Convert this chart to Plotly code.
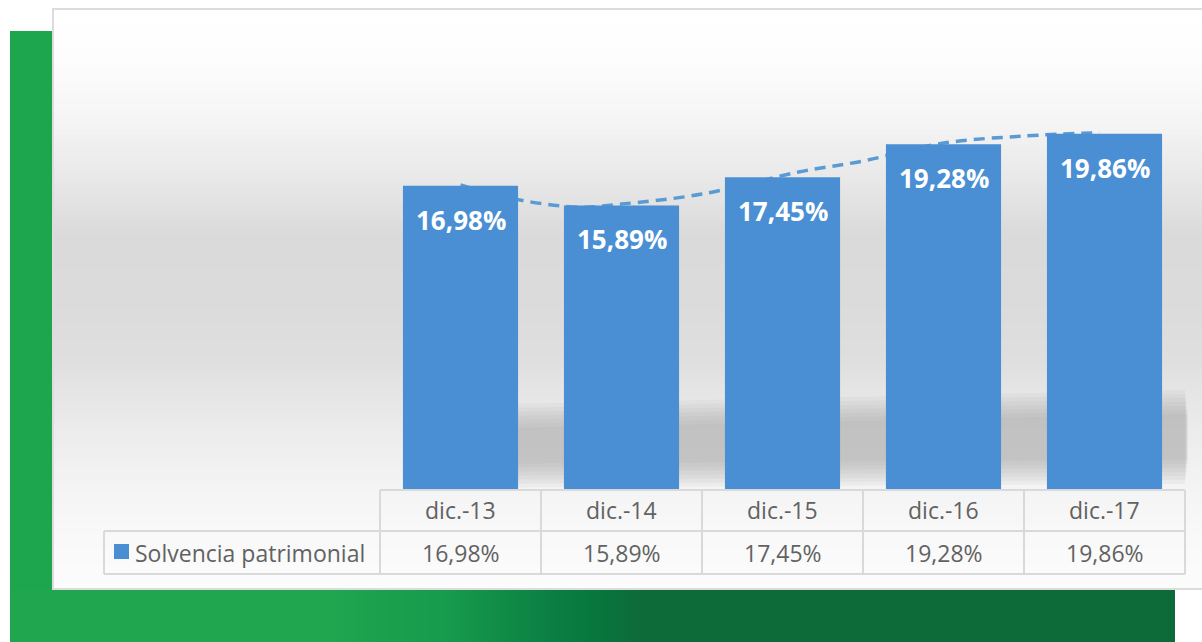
import plotly.graph_objects as go

# ---------------- data ----------------
categories = ["dic.-13", "dic.-14", "dic.-15", "dic.-16", "dic.-17"]
values = [16.98, 15.89, 17.45, 19.28, 19.86]
series_name = "Solvencia patrimonial"
# dashed trend line (x in category units, value in %)
trend_x = [0, 0.37, 0.74, 1.0, 1.5, 2.1, 2.5, 3.0, 3.5, 3.97]
trend_values = [17.02, 16.19, 15.80, 15.97, 16.52, 17.74, 18.35, 19.34, 19.73, 19.92]

W, H = 1202, 642
BAR_COLOR = "#4a8fd3"
TREND_COLOR = "#5b9bd5"
TEXT_GREY = "#626262"
LINE_GREY = "#d9d9d9"
FONT = "Open Sans"


def px(x):
    return x / W


def py(y):
    return 1 - y / H


def fmt(v):
    return f"{v:.2f}".replace(".", ",") + "%"


def lerp_color(stops, t):
    for (t0, c0), (t1, c1) in zip(stops, stops[1:]):
        if t0 <= t <= t1:
            f = 0 if t1 == t0 else (t - t0) / (t1 - t0)
            return tuple(round(a + (b - a) * f) for a, b in zip(c0, c1))
    return stops[-1][1]


shapes = []

# green decoration: left strip + bottom gradient band
shapes.append(dict(type="rect", xref="paper", yref="paper", layer="below",
                   x0=px(10), x1=px(53), y0=py(590), y1=py(31),
                   fillcolor="#1ea64f", line_width=0))
green_stops = [(10, (31, 166, 79)), (330, (31, 166, 79)), (450, (22, 154, 76)),
               (560, (10, 125, 66)), (590, (7, 120, 62)), (640, (13, 107, 58)),
               (1175, (13, 107, 58))]
step = 5
x = 10
while x < 1175:
    c = lerp_color(green_stops, x + step / 2)
    shapes.append(dict(type="rect", xref="paper", yref="paper", layer="below",
                       x0=px(x), x1=px(min(x + step + 0.6, 1175)), y0=0, y1=py(590),
                       fillcolor="rgb(%d,%d,%d)" % c, line_width=0))
    x += step

# white panel with vertical grey gradient
bg_stops = [(9, (255,) * 3), (60, (253,) * 3), (120, (245,) * 3), (180, (232,) * 3),
            (235, (218,) * 3), (300, (219,) * 3), (360, (223,) * 3), (420, (234,) * 3),
            (480, (243,) * 3), (540, (249,) * 3), (590, (252,) * 3)]
y = 9
while y < 589:
    c = lerp_color(bg_stops, y + 2.5)
    shapes.append(dict(type="rect", xref="paper", yref="paper", layer="below",
                       x0=px(53), x1=1.0, y0=py(min(y + 5.6, 589)), y1=py(y),
                       fillcolor="rgb(%d,%d,%d)" % c, line_width=0))
    y += 5
shapes.append(dict(type="rect", xref="paper", yref="paper", layer="below",
                   x0=px(53), x1=px(1210), y0=py(589), y1=py(9),
                   line=dict(color="#dcdcdc", width=2), fillcolor="rgba(0,0,0,0)"))

# soft shadow behind the bars (nested translucent layers for a blurred edge)
for i in range(7):
    x0, x1 = 405, 1188 - 3 + i * 0.5
    yt_l, yt_r = 406 + 4 * i, 390 + 4 * i
    yb_l, yb_r = 488 - 4 * i, 484 - 4 * i
    path = "M %f,%f L %f,%f L %f,%f L %f,%f Z" % (
        px(x0), py(yt_l), px(x1), py(yt_r), px(x1), py(yb_r), px(x0), py(yb_l))
    shapes.append(dict(type="path", xref="paper", yref="paper", layer="below", path=path,
                       fillcolor="rgba(150,150,150,0.085)", line_width=0))

# data table lines
col_edges = [380 + 161 * i for i in range(len(categories) + 1)]
row_top, row_mid, row_bot = 490, 531, 574
legend_left = 104


def hline(x0, x1, yy):
    return dict(type="line", xref="paper", yref="paper", x0=px(x0), x1=px(x1),
                y0=py(yy), y1=py(yy), line=dict(color=LINE_GREY, width=2))


def vline(xx, y0, y1):
    return dict(type="line", xref="paper", yref="paper", x0=px(xx), x1=px(xx),
                y0=py(y0), y1=py(y1), line=dict(color=LINE_GREY, width=2))


shapes.append(hline(col_edges[0], col_edges[-1], row_top))
shapes.append(hline(legend_left, col_edges[-1], row_mid))
shapes.append(hline(legend_left, col_edges[-1], row_bot))
shapes.append(vline(legend_left, row_mid, row_bot))
for xe in col_edges:
    shapes.append(vline(xe, row_top, row_bot))

# legend key square
shapes.append(dict(type="rect", xref="paper", yref="paper",
                   x0=px(114), x1=px(129), y0=py(559), y1=py(544),
                   fillcolor=BAR_COLOR, line_width=0))

annotations = []
# labels inside the bars
for i, v in enumerate(values):
    annotations.append(dict(x=i, y=v, xref="x", yref="y", text="<b>%s</b>" % fmt(v),
                            showarrow=False, yanchor="middle", yshift=-34,
                            font=dict(family=FONT, size=26, color="white")))
# table text
TABLE_FS = 23
for i, (cat, v) in enumerate(zip(categories, values)):
    cx = (col_edges[i] + col_edges[i + 1]) / 2
    annotations.append(dict(x=px(cx), y=py((row_top + row_mid) / 2), xref="paper", yref="paper",
                            text=cat, showarrow=False, xanchor="center", yanchor="middle",
                            font=dict(family=FONT, size=TABLE_FS, color=TEXT_GREY)))
    annotations.append(dict(x=px(cx), y=py((row_mid + row_bot) / 2), xref="paper", yref="paper",
                            text=fmt(v), showarrow=False, xanchor="center", yanchor="middle",
                            font=dict(family=FONT, size=TABLE_FS, color=TEXT_GREY)))
annotations.append(dict(x=px(133), y=py((row_mid + row_bot) / 2), xref="paper", yref="paper",
                        text=series_name, showarrow=False, xanchor="left", yanchor="middle",
                        font=dict(family=FONT, size=TABLE_FS, color=TEXT_GREY)))

fig = go.Figure()
# trend line on the primary axis (drawn beneath the bars, which sit on the overlaying axis)
fig.add_trace(go.Scatter(x=trend_x, y=trend_values, mode="lines", yaxis="y", xaxis="x",
                         line=dict(color=TREND_COLOR, width=3.5, dash="11px,7px",
                                   shape="spline", smoothing=1.0),
                         hoverinfo="skip", showlegend=False))
fig.add_trace(go.Bar(x=list(range(len(categories))), y=values, yaxis="y2", xaxis="x",
                     marker=dict(color=BAR_COLOR, line_width=0), width=0.715,
                     name=series_name, showlegend=False,
                     hovertext=categories, hoverinfo="text+y"))

yrange = [0.15, 26.15]
ydomain = [py(490), py(20)]
fig.update_layout(
    width=W, height=H,
    margin=dict(l=0, r=0, t=0, b=0, pad=0),
    paper_bgcolor="white",
    plot_bgcolor="rgba(0,0,0,0)",
    shapes=shapes,
    annotations=annotations,
    xaxis=dict(domain=[px(380), px(1185)], range=[-0.5, 4.5], showgrid=False,
               zeroline=False, showticklabels=False, showline=False, fixedrange=True),
    yaxis=dict(domain=ydomain, range=yrange, showgrid=False, zeroline=False,
               showticklabels=False, showline=False, fixedrange=True),
    yaxis2=dict(domain=ydomain, range=yrange, overlaying="y", showgrid=False,
                zeroline=False, showticklabels=False, showline=False, fixedrange=True),
    showlegend=False,
)

fig.write_html("out.html", config={"displayModeBar": False},
               post_script="document.body.style.margin='0';")
